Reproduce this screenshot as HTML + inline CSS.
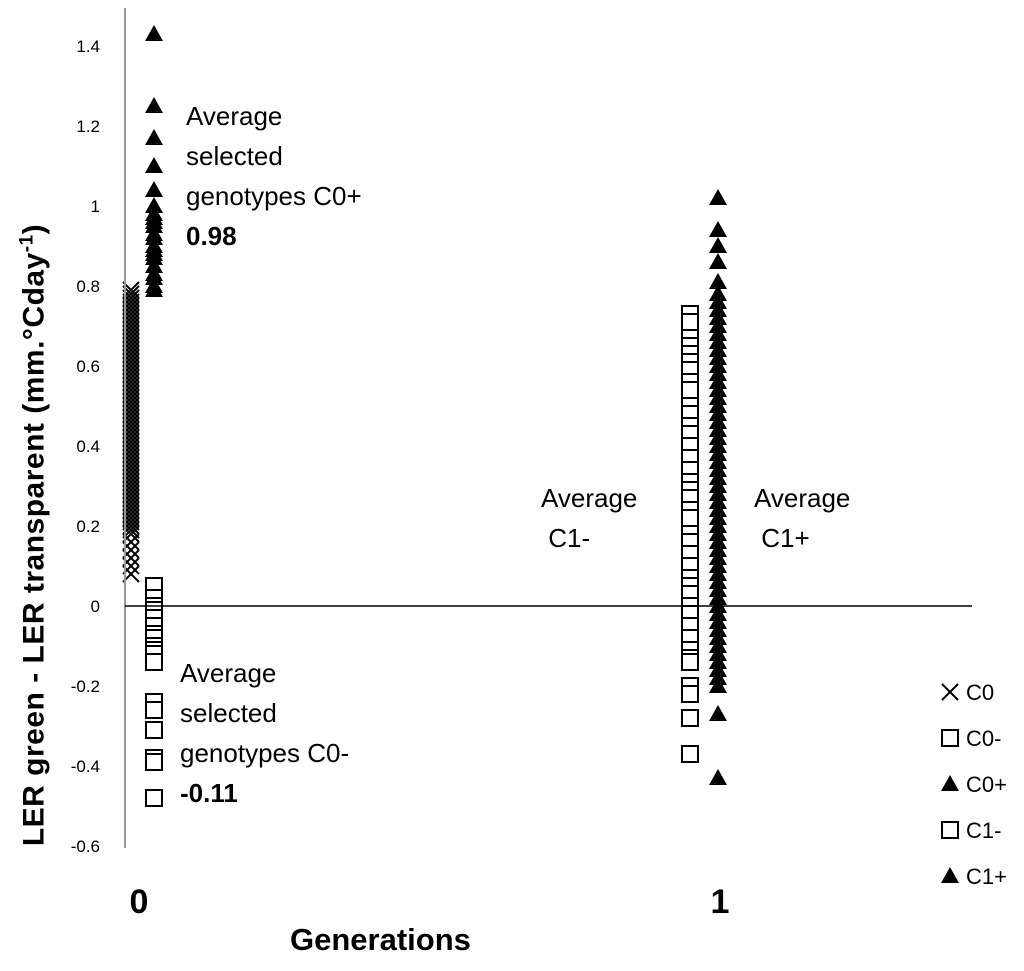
<!DOCTYPE html>
<html><head><meta charset="utf-8"><style>
body{margin:0;background:#fff}
svg{display:block;font-family:"Liberation Sans",sans-serif}
</style></head><body>
<svg id="c" width="1024" height="971" viewBox="0 0 1024 971">
<g id="marks"></g>
<g id="axes"></g>
</svg>
<script>
const yTicks=[1.4,1.2,1,0.8,0.6,0.4,0.2,0,-0.2,-0.4,-0.6];
const yTickLabels=["1.4","1.2","1","0.8","0.6","0.4","0.2","0","-0.2","-0.4","-0.6"];
const xCategories=["0","1"];
const c0=[0.79,0.78,0.77,0.76,0.75,0.74,0.73,0.72,0.71,0.70,0.69,0.68,0.67,0.66,0.65,0.64,0.63,0.62,0.61,0.60,0.59,0.58,0.57,0.56,0.55,0.54,0.53,0.52,0.51,0.50,0.49,0.48,0.47,0.46,0.45,0.44,0.43,0.42,0.41,0.40,0.39,0.38,0.37,0.36,0.35,0.34,0.33,0.32,0.31,0.30,0.29,0.28,0.27,0.26,0.25,0.24,0.23,0.22,0.21,0.20,0.19,0.18,0.16,0.14,0.12,0.10,0.08];
const c0minus=[0.05,0.02,0,-0.01,-0.03,-0.05,-0.07,-0.08,-0.10,-0.11,-0.12,-0.14,-0.24,-0.26,-0.31,-0.38,-0.39,-0.48];
const c0plus=[1.43,1.25,1.17,1.10,1.04,1.00,0.98,0.97,0.96,0.95,0.93,0.92,0.90,0.89,0.88,0.87,0.85,0.83,0.82,0.80,0.79];
const c1minus=[0.73,0.71,0.67,0.65,0.63,0.61,0.59,0.56,0.54,0.50,0.48,0.45,0.43,0.40,0.37,0.34,0.31,0.29,0.27,0.24,0.22,0.18,0.16,0.13,0.10,0.07,0.05,0.03,0.0,-0.02,-0.05,-0.08,-0.11,-0.13,-0.14,-0.20,-0.22,-0.28,-0.37];
const c1plus=[1.02,0.94,0.90,0.86,0.81,0.78,0.76,0.74,0.72,0.70,0.68,0.66,0.64,0.62,0.60,0.58,0.56,0.54,0.52,0.50,0.48,0.46,0.44,0.42,0.40,0.38,0.36,0.34,0.32,0.30,0.28,0.26,0.24,0.22,0.20,0.18,0.16,0.14,0.12,0.10,0.08,0.06,0.04,0.02,0.0,-0.02,-0.04,-0.06,-0.08,-0.10,-0.12,-0.14,-0.16,-0.18,-0.20,-0.27,-0.43];
const NS="http://www.w3.org/2000/svg";
function y(v){return 606-v*400;}
function x(g){return 125+g*585;}
function mk(tag,attrs,parent){const e=document.createElementNS(NS,tag);for(const k in attrs)e.setAttribute(k,attrs[k]);parent.appendChild(e);return e;}
const marks=document.getElementById('marks'),axes=document.getElementById('axes');
let e=mk('line',{x1:125,y1:8,x2:125,y2:848,stroke:'#999','stroke-width':2},axes);


e=mk('line',{x1:125,y1:y(0),x2:972,y2:y(0),stroke:'#000','stroke-width':1.5},axes);


yTicks.forEach((t,i)=>{const tx=mk('text',{x:100,y:y(t)+6,'text-anchor':'end','font-size':17},axes);tx.textContent=yTickLabels[i];

});
xCategories.forEach((c,i)=>{const tx=mk('text',{x:x(i)+14-(i?4:0),y:913,'text-anchor':'middle','font-size':34,'font-weight':'bold'},axes);tx.textContent=c;

});
function cross(cx,cy,p){return mk('path',{d:`M${cx-8},${cy-8}L${cx+8},${cy+8}M${cx+8},${cy-8}L${cx-8},${cy+8}`,stroke:'#000','stroke-width':2,fill:'none'},p);}
function sq(cx,cy,p){return mk('rect',{x:cx-8,y:cy-8,width:16,height:16,fill:'#fff',stroke:'#000','stroke-width':2},p);}
function tri(cx,cy,p){return mk('path',{d:`M${cx},${cy-9}L${cx+9},${cy+7}L${cx-9},${cy+7}Z`,fill:'#000'},p);}
c0.forEach(v=>{const m=cross(131,y(v),marks);});
c0minus.forEach(v=>{const m=sq(154,y(v),marks);});
c0plus.forEach(v=>{const m=tri(154,y(v),marks);});
c1minus.forEach(v=>{const m=sq(x(1)-20,y(v),marks);});
c1plus.forEach(v=>{const m=tri(x(1)+8,y(v),marks);});
const leg=[['C0',cross],['C0-',sq],['C0+',tri],['C1-',sq],['C1+',tri]];
leg.forEach((l,i)=>{const cy=692+i*46;const m=l[1](950,cy,axes);
const tx=mk('text',{x:966,y:cy+8,'font-size':22},axes);tx.textContent=l[0];

});
</script>
<div style="position:absolute;left:0;top:0;width:1024px;height:971px;pointer-events:none;font-family:'Liberation Sans',sans-serif">
<div style="position:absolute;left:186px;top:96px;font-size:26px;line-height:40px">Average<br>selected<br>genotypes C0+<br><b>0.98</b></div>
<div style="position:absolute;left:180px;top:653px;font-size:26px;line-height:40px">Average<br>selected<br>genotypes C0-<br><b>-0.11</b></div>
<div style="position:absolute;left:541px;top:478px;font-size:26px;line-height:40px">Average<br>&nbsp;C1-</div>
<div style="position:absolute;left:754px;top:478px;font-size:26px;line-height:40px">Average<br>&nbsp;C1+</div>
<div style="position:absolute;left:290px;top:922px;font-size:31px;font-weight:bold">Generations</div>
<div style="position:absolute;left:34px;top:535px;width:0;height:0"><div style="position:absolute;transform:translate(-50%,-50%) rotate(-90deg);white-space:nowrap;font-size:30px;font-weight:bold;letter-spacing:0.5px">LER green - LER transparent (mm.°Cday<sup style="font-size:19px">-1</sup>)</div></div>
</div>
</body></html>
